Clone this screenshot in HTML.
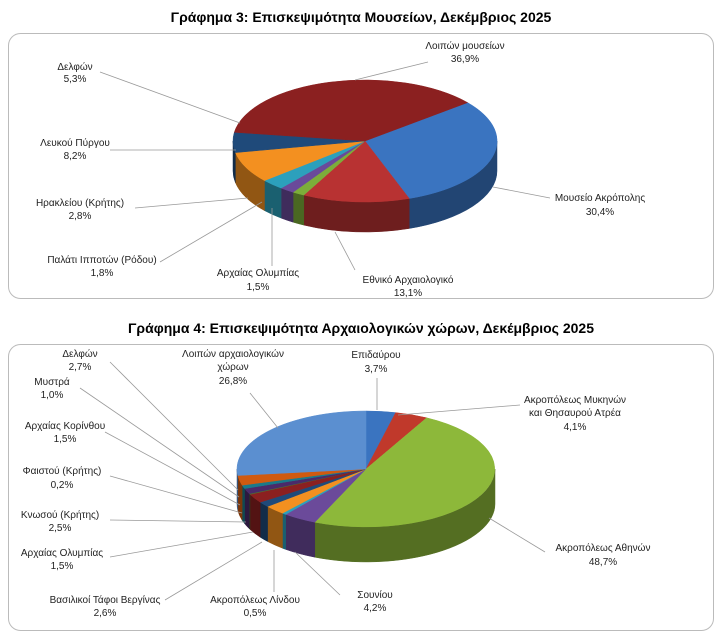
<!DOCTYPE html>
<html><head><meta charset="utf-8"><style>
body{margin:0;background:#fff;}
svg{display:block;font-family:"Liberation Sans",sans-serif;}
text{font-size:10px;fill:#222;text-anchor:middle;}
.t{font-size:14px;font-weight:bold;fill:#000;}
line{stroke:#999;stroke-width:0.8;}
</style></head><body>
<svg id="s" width="723" height="640" viewBox="0 0 723 640">
<rect x="8.5" y="33.5" width="705" height="265" rx="12" fill="#fff" stroke="#bbb"/>
<rect x="8.5" y="344.5" width="705" height="286" rx="12" fill="#fff" stroke="#bbb"/>
<text class="t" x="361" y="22">Γράφημα 3: Επισκεψιμότητα Μουσείων, Δεκέμβριος 2025</text>
<text class="t" x="361" y="333">Γράφημα 4: Επισκεψιμότητα Αρχαιολογικών χώρων, Δεκέμβριος 2025</text>
<g id="p1"></g><g id="p2"></g>
<!-- labels chart 1 -->
<line x1="355" y1="80" x2="428" y2="62"/>
<text x="465" y="49">Λοιπών μουσείων</text><text x="465" y="62">36,9%</text>
<line x1="240" y1="123" x2="100" y2="72"/>
<text x="75" y="70">Δελφών</text><text x="75" y="82">5,3%</text>
<line x1="236" y1="150" x2="110" y2="150"/>
<text x="75" y="146">Λευκού Πύργου</text><text x="75" y="159">8,2%</text>
<line x1="248" y1="198" x2="135" y2="208"/>
<text x="80" y="206">Ηρακλείου (Κρήτης)</text><text x="80" y="219">2,8%</text>
<line x1="262" y1="202" x2="160" y2="262"/>
<text x="102" y="263">Παλάτι Ιπποτών (Ρόδου)</text><text x="102" y="276">1,8%</text>
<line x1="272" y1="208" x2="272" y2="266"/>
<text x="258" y="276">Αρχαίας Ολυμπίας</text><text x="258" y="290">1,5%</text>
<line x1="335" y1="232" x2="355" y2="270"/>
<text x="408" y="283">Εθνικό Αρχαιολογικό</text><text x="408" y="296">13,1%</text>
<line x1="493" y1="187" x2="550" y2="198"/>
<text x="600" y="201">Μουσείο Ακρόπολης</text><text x="600" y="215">30,4%</text>
<!-- labels chart 2 -->
<line x1="278" y1="428" x2="250" y2="393"/>
<text x="233" y="357">Λοιπών αρχαιολογικών</text><text x="233" y="370">χώρων</text><text x="233" y="384">26,8%</text>
<line x1="377" y1="410" x2="377" y2="378"/>
<text x="376" y="358">Επιδαύρου</text><text x="376" y="372">3,7%</text>
<line x1="398" y1="415" x2="520" y2="405"/>
<text x="575" y="403">Ακροπόλεως Μυκηνών</text><text x="575" y="416">και Θησαυρού Ατρέα</text><text x="575" y="430">4,1%</text>
<line x1="489" y1="518" x2="545" y2="552"/>
<text x="603" y="551">Ακροπόλεως Αθηνών</text><text x="603" y="565">48,7%</text>
<line x1="295" y1="552" x2="340" y2="595"/>
<text x="375" y="598">Σουνίου</text><text x="375" y="611">4,2%</text>
<line x1="274" y1="550" x2="274" y2="592"/>
<text x="255" y="603">Ακροπόλεως Λίνδου</text><text x="255" y="616">0,5%</text>
<line x1="262" y1="542" x2="165" y2="600"/>
<text x="105" y="603">Βασιλικοί Τάφοι Βεργίνας</text><text x="105" y="616">2,6%</text>
<line x1="253" y1="532" x2="110" y2="557"/>
<text x="62" y="556">Αρχαίας Ολυμπίας</text><text x="62" y="569">1,5%</text>
<line x1="246" y1="522" x2="110" y2="520"/>
<text x="60" y="518">Κνωσού (Κρήτης)</text><text x="60" y="531">2,5%</text>
<line x1="242" y1="513" x2="110" y2="476"/>
<text x="62" y="474">Φαιστού (Κρήτης)</text><text x="62" y="488">0,2%</text>
<line x1="240" y1="505" x2="105" y2="432"/>
<text x="65" y="429">Αρχαίας Κορίνθου</text><text x="65" y="442">1,5%</text>
<line x1="239" y1="497" x2="80" y2="388"/>
<text x="52" y="385">Μυστρά</text><text x="52" y="398">1,0%</text>
<line x1="238" y1="490" x2="110" y2="362"/>
<text x="80" y="357">Δελφών</text><text x="80" y="370">2,7%</text>
</svg>
<script>
function shade(h,f){var n=parseInt(h.slice(1),16);var r=(n>>16)*f,g=((n>>8)&255)*f,b=(n&255)*f;return "rgb("+(r|0)+","+(g|0)+","+(b|0)+")";}
function pie(id,cx,cy,rx,ry,d,start,data){
 var g=document.getElementById(id),ns="http://www.w3.org/2000/svg",sides="",tops="";
 var P=function(t,dy){return (cx+rx*Math.cos(t)).toFixed(1)+","+(cy+ry*Math.sin(t)+(dy||0)).toFixed(1);};
 var a=start*Math.PI/180,segs=[];
 data.forEach(function(s){var b=a+s[0]/100*2*Math.PI;segs.push([a,b,s[1]]);a=b;});
 segs.forEach(function(s){
  for(var k=-1;k<=1;k++){var lo=Math.max(s[0],k*2*Math.PI),hi=Math.min(s[1],k*2*Math.PI+Math.PI);
   if(hi>lo){var la=(hi-lo)>Math.PI?1:0;
    sides+='<path fill="'+shade(s[2],0.6)+'" stroke="'+shade(s[2],0.6)+'" stroke-width="0.5" d="M'+P(lo)+' A'+rx+','+ry+' 0 '+la+' 1 '+P(hi)+' L'+P(hi,d)+' A'+rx+','+ry+' 0 '+la+' 0 '+P(lo,d)+'Z"/>';}}
  var la=(s[1]-s[0])>Math.PI?1:0;
  tops+='<path fill="'+s[2]+'" stroke="'+s[2]+'" stroke-width="0.5" d="M'+cx+','+cy+' L'+P(s[0])+' A'+rx+','+ry+' 0 '+la+' 1 '+P(s[1])+'Z"/>';
 });
 g.innerHTML=sides+tops;
}
pie("p1",365,141,132,61,30,-39,[[30.4,"#3a74c0"],[13.1,"#b83232"],[1.5,"#7cad3a"],[1.8,"#6a4a9a"],[2.8,"#2ca0bc"],[8.2,"#f39020"],[5.3,"#1f4a7a"],[36.9,"#8b2020"]]);
pie("p2",366,469,129,58,35,-90,[[3.7,"#3a74c0"],[4.1,"#c0392b"],[48.7,"#8db83a"],[4.2,"#6b4a9a"],[0.5,"#2ca0bc"],[2.6,"#f39020"],[1.5,"#1f4a7a"],[2.5,"#8b2020"],[0.2,"#4a7030"],[1.5,"#4a2a6a"],[1.0,"#1a7a8a"],[2.7,"#d05a10"],[26.8,"#5b8fd0"]]);
</script>
</body></html>
